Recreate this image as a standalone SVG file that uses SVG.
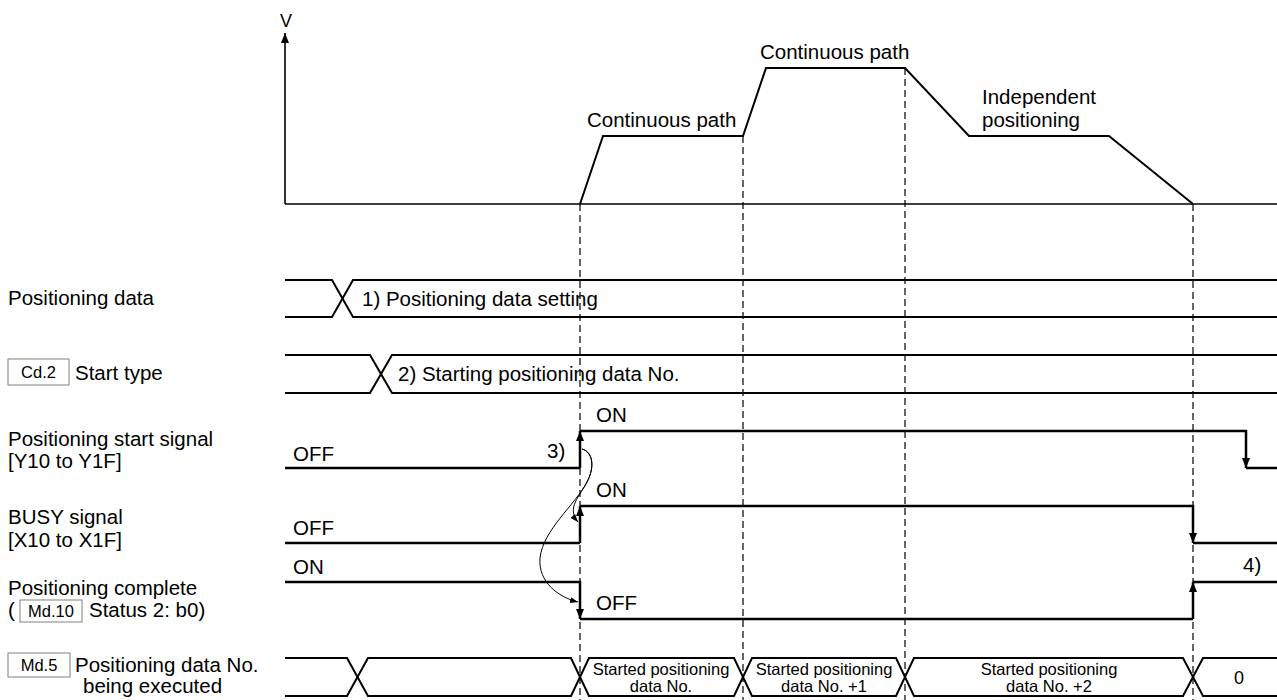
<svg xmlns="http://www.w3.org/2000/svg" width="1277" height="700" viewBox="0 0 1277 700">
<style>
.t{font-family:"Liberation Sans",Arial,sans-serif;font-size:20.5px;fill:#000}
.s{font-family:"Liberation Sans",Arial,sans-serif;font-size:16.5px;fill:#000}
.sig{stroke:#000;stroke-width:2.5;fill:none}
.row{stroke:#000;stroke-width:2;fill:none}
.prof{stroke:#000;stroke-width:2;fill:none;stroke-linejoin:miter}
.axis{stroke:#000;stroke-width:1.6;fill:none}
.dash{stroke:#000;stroke-width:1.2;stroke-dasharray:7 4;fill:none}
.cur{stroke:#000;stroke-width:1;fill:none}
.box{fill:#fff;stroke:#808080;stroke-width:1}
</style>
<defs>
<marker id="arr" viewBox="0 0 10 10" refX="10" refY="5" markerWidth="10" markerHeight="8" markerUnits="userSpaceOnUse" orient="auto" preserveAspectRatio="none"><path d="M0,0 L10,5 L0,10 z" fill="#000"/></marker>
<marker id="arrS" viewBox="0 0 10 10" refX="10" refY="5" markerWidth="8" markerHeight="6" markerUnits="userSpaceOnUse" orient="auto" preserveAspectRatio="none"><path d="M0,0 L10,5 L0,10 z" fill="#000"/></marker>
</defs>

<g id="velocity-axis">
<path class="axis" d="M285,204 H1277"/>
<path class="axis" d="M285,204 V33" marker-end="url(#arr)"/>
<text class="t" x="286" y="27" text-anchor="middle" style="font-size:18px">V</text>
</g>

<g id="velocity-profile">
<path class="prof" d="M580,204 L603,136 H743 L766,68 H905 L969,136 H1109 L1193,204"/>
<text class="t" x="587" y="127">Continuous path</text>
<text class="t" x="760" y="59">Continuous path</text>
<text class="t" x="982" y="104">Independent</text>
<text class="t" x="982" y="127">positioning</text>
</g>

<g id="connectors">
<path class="dash" d="M580,204 V700"/>
<path class="dash" d="M743,136 V700"/>
<path class="dash" d="M905,68 V700"/>
<path class="dash" d="M1193,204 V700"/>
<path class="cur" d="M582,449 C593,452 595,467 587,482 C580,496 566,508 578,522" marker-end="url(#arrS)"/>
<path class="cur" d="M582,449 C593,452 595,467 587,482 C575,505 543,530 540,558 C538,582 558,597 578,602" marker-end="url(#arrS)"/>
</g>

<g id="positioning-data">
<text class="t" x="8" y="305">Positioning data</text>
<path class="row" d="M285,280 H332 L353,317 H1277"/>
<path class="row" d="M285,317 H332 L353,280 H1277"/>
<text class="t" x="362" y="306">1) Positioning data setting</text>
</g>

<g id="start-type">
<rect class="box" x="8" y="359" width="61" height="26"/>
<text class="s" x="38.5" y="378" text-anchor="middle">Cd.2</text>
<text class="t" x="75" y="380">Start type</text>
<path class="row" d="M285,355 H370 L392,393 H1277"/>
<path class="row" d="M285,393 H370 L392,355 H1277"/>
<text class="t" x="398" y="381">2) Starting positioning data No.</text>
</g>

<g id="start-signal">
<text class="t" x="8" y="446">Positioning start signal</text>
<text class="t" x="8" y="468">[Y10 to Y1F]</text>
<text class="t" x="293" y="461">OFF</text>
<text class="t" x="596" y="422">ON</text>
<text class="t" x="547" y="458">3)</text>
<path class="sig" d="M285,468 H580"/>
<path class="sig" d="M580,468 V431" marker-end="url(#arr)"/>
<path class="sig" d="M580,431 H1246 V468" marker-end="url(#arr)"/>
<path class="sig" d="M1246,468 H1277"/>
</g>

<g id="busy-signal">
<text class="t" x="8" y="524">BUSY signal</text>
<text class="t" x="8" y="547">[X10 to X1F]</text>
<text class="t" x="293" y="535">OFF</text>
<text class="t" x="596" y="497">ON</text>
<path class="sig" d="M285,543 H580"/>
<path class="sig" d="M580,543 V506" marker-end="url(#arr)"/>
<path class="sig" d="M580,506 H1193 V543" marker-end="url(#arr)"/>
<path class="sig" d="M1193,543 H1277"/>
</g>

<g id="positioning-complete">
<text class="t" x="8" y="595">Positioning complete</text>
<text class="t" x="8" y="617">(</text>
<rect class="box" x="20" y="600" width="62" height="22"/>
<text class="s" x="51" y="617" text-anchor="middle">Md.10</text>
<text class="t" x="89" y="617">Status 2: b0)</text>
<text class="t" x="293" y="574">ON</text>
<text class="t" x="596" y="610">OFF</text>
<text class="t" x="1243" y="572">4)</text>
<path class="sig" d="M285,582 H580 V619" marker-end="url(#arr)"/>
<path class="sig" d="M580,619 H1193"/>
<path class="sig" d="M1193,619 V582" marker-end="url(#arr)"/>
<path class="sig" d="M1193,582 H1277"/>
</g>

<g id="data-no-executing">
<rect class="box" x="8" y="653" width="62" height="24"/>
<text class="s" x="39" y="671" text-anchor="middle">Md.5</text>
<text class="t" x="75" y="672">Positioning data No.</text>
<text class="t" x="83" y="693">being executed</text>
<path class="row" d="M285,658 H347 L368,696 H571 L589,658 H734 L752,696 H896 L914,658 H1183 L1203,696 H1277"/>
<path class="row" d="M285,696 H347 L368,658 H571 L589,696 H734 L752,658 H896 L914,696 H1183 L1203,658 H1277"/>
<text class="s" x="661" y="675" text-anchor="middle">Started positioning</text>
<text class="s" x="661" y="692" text-anchor="middle">data No.</text>
<text class="s" x="824" y="675" text-anchor="middle">Started positioning</text>
<text class="s" x="824" y="692" text-anchor="middle">data No. +1</text>
<text class="s" x="1049" y="675" text-anchor="middle">Started positioning</text>
<text class="s" x="1049" y="692" text-anchor="middle">data No. +2</text>
<text class="t" x="1239" y="684" text-anchor="middle" style="font-size:18px">0</text>
</g>
</svg>
